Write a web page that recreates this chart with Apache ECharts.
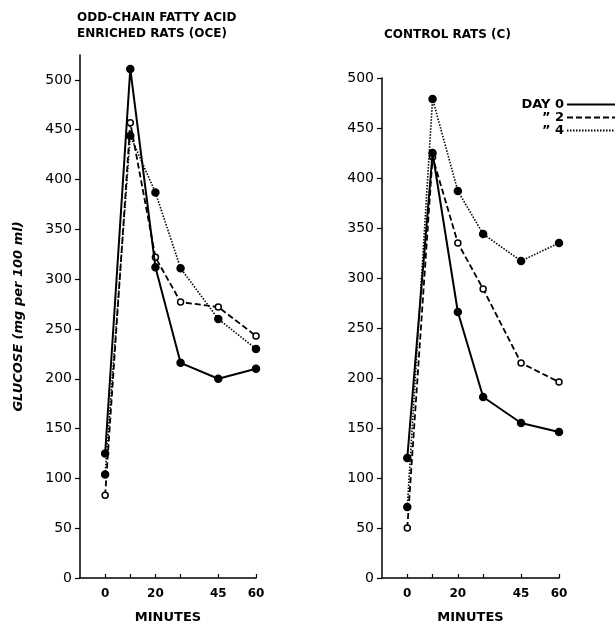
<!DOCTYPE html>
<html>
<head>
<meta charset="utf-8">
<script src="https://cdn.jsdelivr.net/npm/echarts@6.0.0/dist/echarts.min.js"></script>
<style>
    html, body { margin: 0; padding: 0; background: #fff; }
    #glucose_chart { width: 615px; height: 629px; }
</style>
</head>
<body>
<div id="glucose_chart"></div>
<script>
// Sample times (minutes)
var minutes = [0, 10, 20, 30, 45, 60];

// Tick marks and labels on the time axis
var timeTicks = [0, 10, 20, 30, 45, 60];
var timeLabels = [0, 20, 45, 60];

// Series names
var dayNames = ['DAY 0', '\u201D 2', '\u201D 4'];

// Odd-chain fatty acid enriched rats (OCE)
var oceDay0 = [125, 511, 312, 216, 200, 210];
var oceDay2 = [83, 457, 322, 277, 272, 243];
var oceDay4 = [104, 444, 387, 311, 260, 230];

// Control rats (C)
var ctlDay0 = [120, 425, 266, 181, 155, 146];
var ctlDay2 = [50, 421, 335, 289, 215, 196];
var ctlDay4 = [71, 479, 387, 344, 317, 335];


var GlucoseCurves = function() {

    var _glucoseChart = function() {
        if (typeof echarts == 'undefined') {
            console.warn('Warning - echarts.min.js is not loaded.');
            return;
        }

        var chart_element = document.getElementById('glucose_chart');
        if (!chart_element) {
            return;
        }

        var chart = echarts.init(chart_element, null, { renderer: 'canvas' });

        var fontFamily = '"DejaVu Sans", sans-serif';

        // pair minutes with values
        var pairs = function(values) {
            return minutes.map(function(m, i) {
                return [m, values[i]];
            });
        };

        // line styles per day
        var styles = [
            { type: 'solid', width: 2, symbolFill: '#000', symbolSize: 7 },
            { type: [6, 3], width: 1.8, symbolFill: '#fff', symbolSize: 6 },
            { type: [1.5, 1.5], width: 1.6, symbolFill: '#000', symbolSize: 7 }
        ];

        var makeSeries = function(index, values, gridIndex) {
            var s = styles[index];
            return {
                name: dayNames[index],
                type: 'line',
                xAxisIndex: gridIndex,
                yAxisIndex: gridIndex,
                data: pairs(values),
                symbol: 'circle',
                symbolSize: s.symbolSize,
                showAllSymbol: true,
                animation: false,
                itemStyle: {
                    color: s.symbolFill,
                    borderColor: '#000',
                    borderWidth: 1.5
                },
                lineStyle: {
                    color: '#000',
                    type: s.type,
                    width: s.width
                },
                z: 3 - index
            };
        };

        var xAxisBase = function(gridIndex) {
            return {
                type: 'value',
                gridIndex: gridIndex,
                min: -10,
                max: 60,
                name: 'MINUTES',
                nameLocation: 'middle',
                nameGap: 33,
                nameTextStyle: {
                    color: '#000',
                    fontFamily: fontFamily,
                    fontWeight: 'bold',
                    fontSize: 13
                },
                splitLine: { show: false },
                axisLine: { onZero: false, lineStyle: { color: '#000', width: 1.5 } },
                axisTick: {
                    customValues: timeTicks,
                    inside: true,
                    length: 4,
                    lineStyle: { color: '#000', width: 1.2 }
                },
                axisLabel: {
                    customValues: timeLabels,
                    color: '#000',
                    fontFamily: fontFamily,
                    fontWeight: 'bold',
                    fontSize: 12,
                    margin: 10
                }
            };
        };

        var yAxisBase = function(gridIndex, max) {
            return {
                type: 'value',
                gridIndex: gridIndex,
                min: 0,
                max: max,
                interval: 50,
                splitLine: { show: false },
                axisLine: { show: true, onZero: false, lineStyle: { color: '#000', width: 1.5 } },
                axisTick: {
                    show: true,
                    length: 5,
                    lineStyle: { color: '#000', width: 1.2 }
                },
                axisLabel: {
                    color: '#000',
                    fontFamily: fontFamily,
                    fontSize: 14,
                    margin: 8,
                    showMaxLabel: max % 50 === 0,
                    formatter: function(v) {
                        return v % 50 === 0 ? String(v) : '';
                    }
                }
            };
        };

        var yLeft = yAxisBase(0, 525);
        yLeft.name = 'GLUCOSE (mg per 100 ml)';
        yLeft.nameLocation = 'middle';
        yLeft.nameGap = 55;
        yLeft.nameTextStyle = {
            color: '#000',
            fontFamily: fontFamily,
            fontWeight: 'bold',
            fontStyle: 'italic',
            fontSize: 13
        };

        chart.setOption({
            backgroundColor: '#fff',
            animation: false,

            title: [
                {
                    text: 'ODD-CHAIN FATTY ACID\nENRICHED RATS (OCE)',
                    left: 72,
                    top: 5,
                    textStyle: {
                        color: '#000',
                        fontFamily: fontFamily,
                        fontWeight: 'bold',
                        fontSize: 12,
                        lineHeight: 16
                    }
                },
                {
                    text: 'CONTROL RATS (C)',
                    left: 379,
                    top: 24,
                    textStyle: {
                        color: '#000',
                        fontFamily: fontFamily,
                        fontWeight: 'bold',
                        fontSize: 12
                    }
                }
            ],

            legend: {
                data: dayNames,
                orient: 'vertical',
                right: -6,
                top: 93,
                align: 'right',
                itemGap: 0,
                itemWidth: 48,
                itemHeight: 13,
                itemStyle: { opacity: 0 },
                textStyle: {
                    color: '#000',
                    fontFamily: fontFamily,
                    fontWeight: 'bold',
                    fontSize: 13,
                    width: 50,
                    align: 'right',
                    padding: [0, -2, 0, 0]
                }
            },

            grid: [
                { left: 80, right: 359, top: 55, bottom: 45 },
                { left: 382, right: 56, top: 78, bottom: 45 }
            ],

            xAxis: [xAxisBase(0), xAxisBase(1)],
            yAxis: [yLeft, yAxisBase(1, 500)],

            series: [
                makeSeries(0, oceDay0, 0),
                makeSeries(1, oceDay2, 0),
                makeSeries(2, oceDay4, 0),
                makeSeries(0, ctlDay0, 1),
                makeSeries(1, ctlDay2, 1),
                makeSeries(2, ctlDay4, 1)
            ]
        });
    };

    return {
        init: function() {
            _glucoseChart();
        }
    }
}();

document.addEventListener('DOMContentLoaded', function() {
    GlucoseCurves.init();
});
</script>
</body>
</html>
